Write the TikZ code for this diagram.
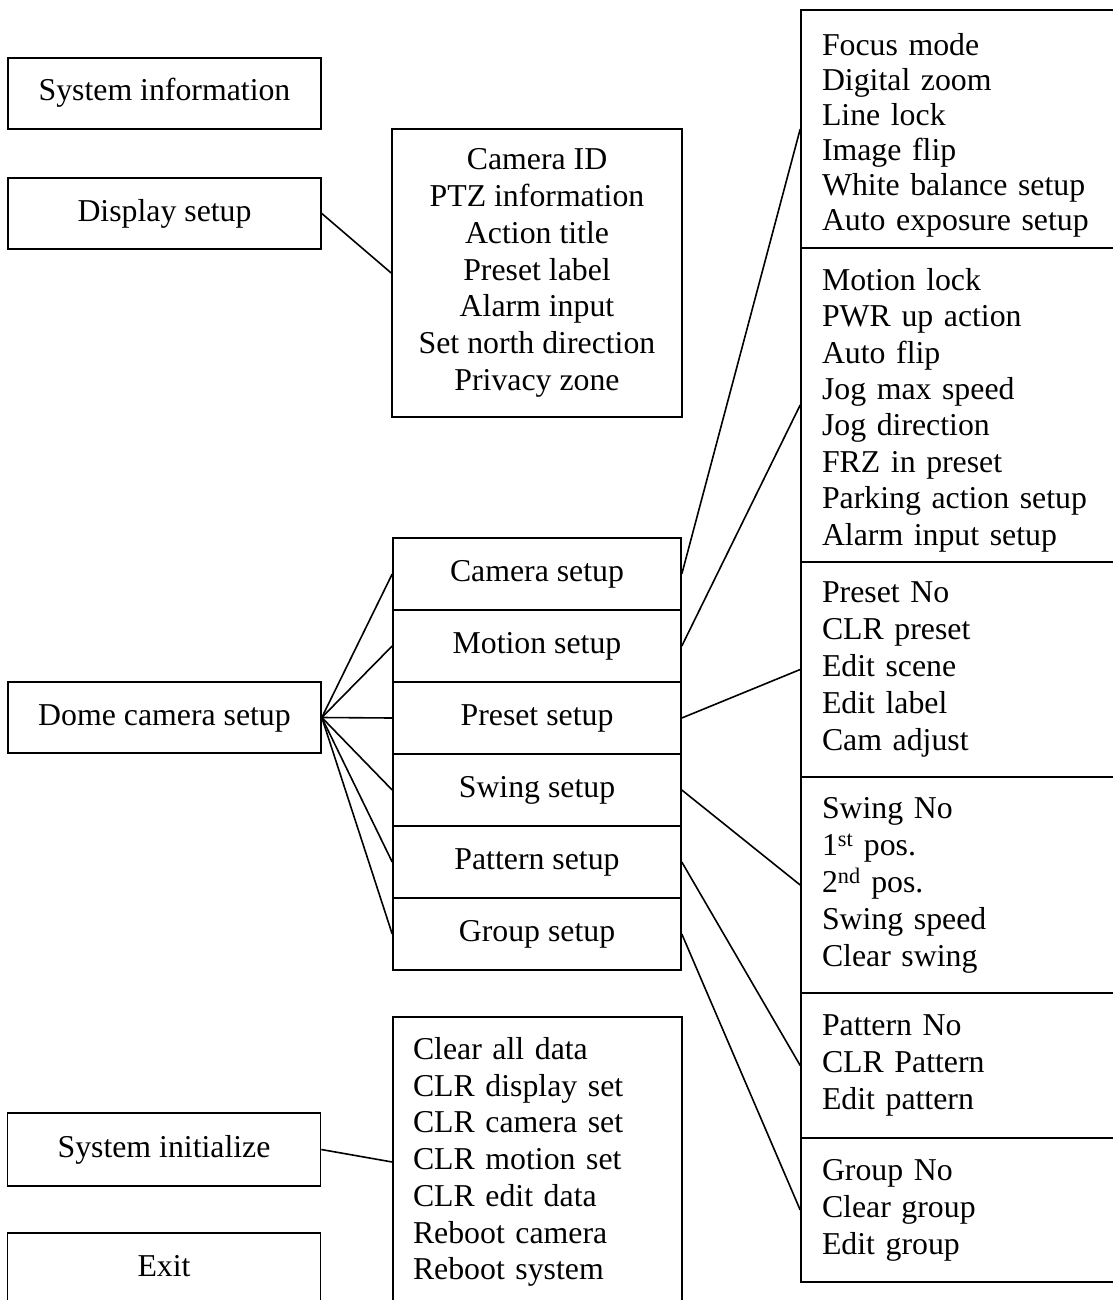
\documentclass[tikz,border=0pt]{standalone}
\usepackage{fontspec}
\setmainfont{Liberation Serif}

\begin{document}
\begin{tikzpicture}[x=1pt,y=-1pt,line width=1.6pt,
  every node/.style={font=\fontsize{31.8pt}{36.7pt}\selectfont},
  menubox/.style={draw,minimum width=313pt,minimum height=71pt,inner sep=0pt,text height=22pt,text depth=7pt},
  rowbox/.style={draw,minimum width=288pt,minimum height=72pt,inner sep=0pt,text height=22pt,text depth=7pt},
  listbox/.style={draw,inner xsep=21pt,inner ysep=0pt,text width=273pt,align=left,font=\fontsize{31.8pt}{37pt}\selectfont}]
\useasboundingbox (0,0) rectangle (1112,1300);
% main menu (px = pt)
\node[menubox] (sysinfo) at (164.5,93.5) {System information};
\node[menubox] (display) at (164.5,213.5) {Display setup};
\node[menubox] (dome) at (164.5,717.5) {Dome camera setup};
\node[menubox,minimum height=73pt] (init) at (164,1149.5) {System initialize};
\node[menubox,minimum height=72pt] (exit) at (164,1269) {Exit};
% display setup items
\node[draw,minimum width=290pt,minimum height=288pt,inner sep=0pt,align=center] (dispitems) at (537,273)
  {Camera ID\\PTZ information\\Action title\\Preset label\\Alarm input\\Set north direction\\Privacy zone};
% dome camera setup rows
\node[rowbox] (camera) at (537,574) {Camera setup};
\node[rowbox] (motion) at (537,646) {Motion setup};
\node[rowbox] (preset) at (537,718) {Preset setup};
\node[rowbox] (swing) at (537,790) {Swing setup};
\node[rowbox] (pattern) at (537,862) {Pattern setup};
\node[rowbox] (group) at (537,934) {Group setup};
% system initialize items
\node[draw,inner xsep=20pt,inner ysep=0pt,text width=249pt,minimum height=290pt,align=left] (inititems) at (537.5,1162)
  {Clear all data\\CLR display set\\CLR camera set\\CLR motion set\\CLR edit data\\Reboot camera\\Reboot system};
% sub items, right column (right edge runs off the page)
\node[listbox,minimum height=238pt,font=\fontsize{31.8pt}{35pt}\selectfont] (camitems) at (958.5,129)
  {\rule{0pt}{34pt}Focus mode\\Digital zoom\\Line lock\\Image flip\\White balance setup\\Auto exposure setup};
\node[listbox,minimum height=314pt,font=\fontsize{31.8pt}{36.4pt}\selectfont] (motitems) at (958.5,405)
  {\rule{0pt}{32pt}Motion lock\\PWR up action\\Auto flip\\Jog max speed\\Jog direction\\FRZ in preset\\Parking action setup\\Alarm input setup};
\node[listbox,minimum height=215pt] (preitems) at (958.5,669.5)
  {Preset No\\CLR preset\\Edit scene\\Edit label\\Cam adjust};
\node[listbox,minimum height=216pt] (swiitems) at (958.5,885)
  {Swing No\\1\textsuperscript{st} pos.\\2\textsuperscript{nd} pos.\\Swing speed\\Clear swing};
\node[listbox,minimum height=145pt] (patitems) at (958.5,1065.5)
  {Pattern No\\CLR Pattern\\Edit pattern};
\node[listbox,minimum height=144pt] (griitems) at (958.5,1210)
  {Group No\\Clear group\\Edit group};
% connectors
\draw (display.east) -- (dispitems.west);
\foreach \r in {camera,motion,preset,swing,pattern,group}
  \draw (dome.east) -- (\r.west);
\draw (camera.east) -- (camitems.west);
\draw (motion.east) -- (motitems.west);
\draw (preset.east) -- (preitems.west);
\draw (swing.east) -- (swiitems.west);
\draw (pattern.east) -- (patitems.west);
\draw (group.east) -- (griitems.west);
\draw (init.east) -- (inititems.west);
\end{tikzpicture}
\end{document}
